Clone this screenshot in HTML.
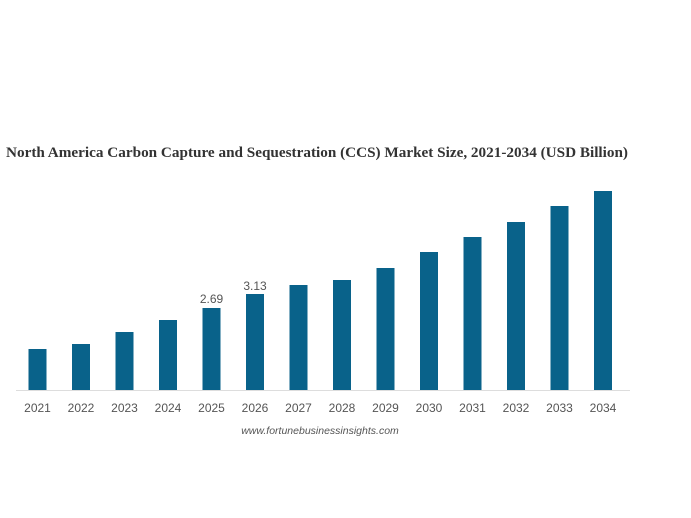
<!DOCTYPE html>
<html><head><meta charset="utf-8"><style>
html,body{margin:0;padding:0;background:#fff;}
svg{display:block;}
</style></head><body>
<svg width="691" height="518" xmlns="http://www.w3.org/2000/svg">
<text x="6" y="157" font-family="Liberation Serif, serif" font-weight="bold" font-size="14.5" fill="#333" textLength="622" lengthAdjust="spacingAndGlyphs">North America Carbon Capture and Sequestration (CCS) Market Size, 2021-2034 (USD Billion)</text>
<line x1="16" y1="390.5" x2="630" y2="390.5" stroke="#ddd" stroke-width="1"/>
<g fill="#09628a">
<rect x="28.5" y="349" width="18" height="41"/>
<rect x="72" y="344" width="18" height="46"/>
<rect x="115.5" y="332" width="18" height="58"/>
<rect x="159" y="320" width="18" height="70"/>
<rect x="202.5" y="308" width="18" height="82"/>
<rect x="246" y="294" width="18" height="96"/>
<rect x="289.5" y="285" width="18" height="105"/>
<rect x="333" y="280" width="18" height="110"/>
<rect x="376.5" y="268" width="18" height="122"/>
<rect x="420" y="252" width="18" height="138"/>
<rect x="463.5" y="237" width="18" height="153"/>
<rect x="507" y="222" width="18" height="168"/>
<rect x="550.5" y="206" width="18" height="184"/>
<rect x="594" y="191" width="18" height="199"/>
</g>
<g font-family="Liberation Sans, sans-serif" font-size="12" fill="#555" text-anchor="middle">
<text x="211.5" y="303">2.69</text>
<text x="255" y="290">3.13</text>
<text x="37.5" y="412">2021</text>
<text x="81" y="412">2022</text>
<text x="124.5" y="412">2023</text>
<text x="168" y="412">2024</text>
<text x="211.5" y="412">2025</text>
<text x="255" y="412">2026</text>
<text x="298.5" y="412">2027</text>
<text x="342" y="412">2028</text>
<text x="385.5" y="412">2029</text>
<text x="429" y="412">2030</text>
<text x="472.5" y="412">2031</text>
<text x="516" y="412">2032</text>
<text x="559.5" y="412">2033</text>
<text x="603" y="412">2034</text>
</g>
<text x="320" y="434" font-family="Liberation Sans, sans-serif" font-size="10.5" font-style="italic" fill="#555" text-anchor="middle">www.fortunebusinessinsights.com</text>
</svg>
</body></html>
